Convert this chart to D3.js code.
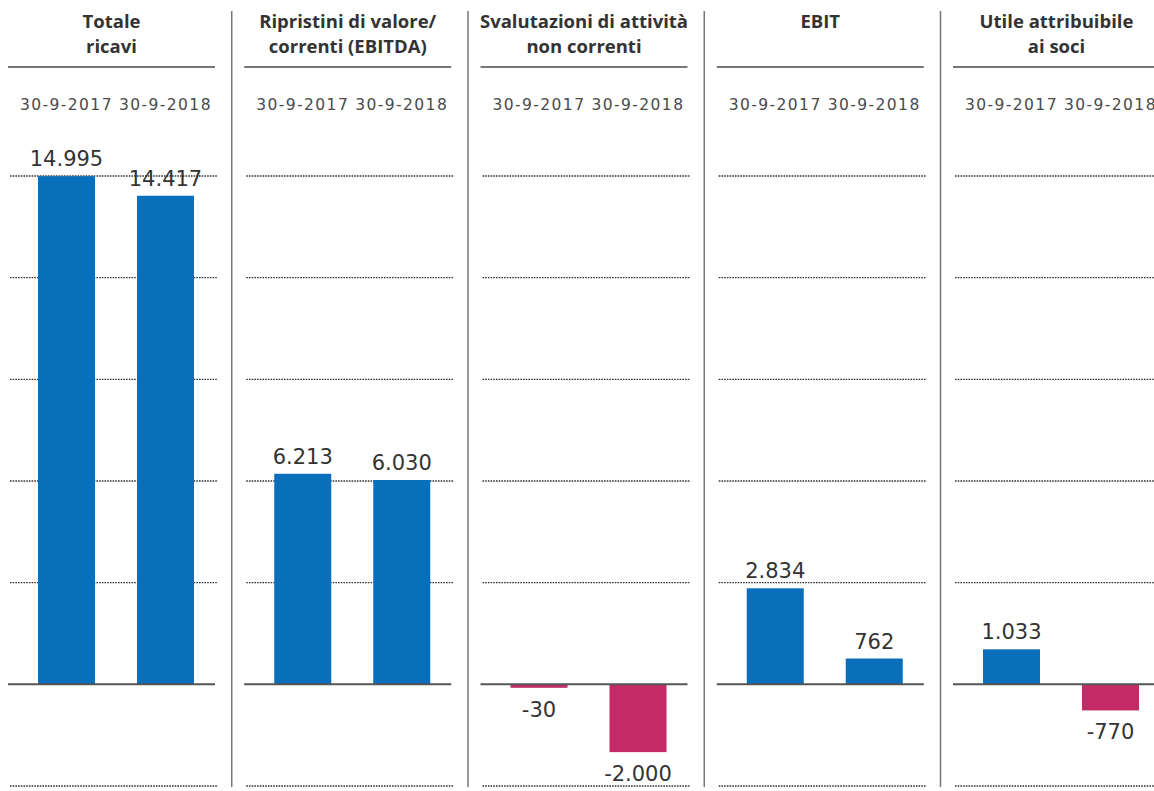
<!DOCTYPE html>
<html><head><meta charset="utf-8">
<script src="https://cdn.jsdelivr.net/npm/d3@7"></script>
<style>
html,body{margin:0;padding:0;background:#fff;overflow:hidden}
svg{display:block}
</style></head>
<body>
<svg id="chart" width="1154" height="791"></svg>
<script>
// ---- data ----
const categories = [
  ["Totale", "ricavi"],
  ["Ripristini di valore/", "correnti (EBITDA)"],
  ["Svalutazioni di attività", "non correnti"],
  ["EBIT"],
  ["Utile attribuibile", "ai soci"]
];
const periods = ["30-9-2017", "30-9-2018"];
const values2017 = [14995, 6213, -30, 2834, 1033];
const values2018 = [14417, 6030, -2000, 762, -770];
const gridTicks = [-3000, 3000, 6000, 9000, 12000, 15000];

// ---- setup ----
const svg = d3.select("#chart");
const blue = "#0a6fba", pink = "#c42a66";
const it = d3.formatLocale({decimal: ",", thousands: ".", grouping: [3], currency: ["€", ""], minus: "-"});
const fmt = it.format(",d");

const panelIds = categories.map((c, i) => i);
const xPanel = d3.scaleBand().domain(panelIds).range([8, 1160]).paddingInner(0.1238).paddingOuter(0);
const pw = xPanel.bandwidth();
const xBar = d3.scaleBand().domain(periods).range([30, 186]).paddingInner(0.4242).paddingOuter(0);
const y = d3.scaleLinear().domain([-3000, 15000]).range([786, 176]);

// separators
for (let i = 1; i < panelIds.length; i++) {
  const sx = xPanel(i) - 12.5;
  svg.append("line").attr("x1", sx).attr("x2", sx).attr("y1", 11).attr("y2", 787)
    .attr("stroke", "#777").attr("stroke-width", 1.5);
}

const panels = svg.selectAll("g.panel").data(panelIds).join("g")
  .attr("class", "panel")
  .attr("transform", d => `translate(${xPanel(d)},0)`);

// titles
panels.each(function(d) {
  const g = d3.select(this);
  const t = g.append("text").attr("x", pw / 2).attr("text-anchor", "middle")
    .attr("font-family", "'Open Sans', sans-serif").attr("font-weight", 700)
    .attr("font-size", 18.5).attr("fill", "#333");
  categories[d].forEach((line, k) => {
    t.append("tspan").attr("x", pw / 2).attr("y", 28 + k * 25).text(line);
  });
});

// underline
panels.append("line").attr("x1", 0).attr("x2", pw).attr("y1", 67).attr("y2", 67)
  .attr("stroke", "#777").attr("stroke-width", 2);

// period labels
panels.selectAll("text.period").data(periods).join("text")
  .attr("class", "period")
  .attr("x", p => xBar(p) + xBar.bandwidth() / 2)
  .attr("y", 110)
  .attr("text-anchor", "middle")
  .attr("font-family", "'DejaVu Sans', sans-serif").attr("font-size", 15.5)
  .attr("letter-spacing", 1.4)
  .attr("fill", "#4a4a4a")
  .text(p => p);

// gridlines
panels.selectAll("line.grid").data(gridTicks).join("line")
  .attr("class", "grid")
  .attr("x1", 2).attr("x2", pw + 3)
  .attr("y1", t => y(t)).attr("y2", t => y(t))
  .attr("stroke", "#333").attr("stroke-width", 1.4)
  .attr("stroke-dasharray", "1.6,1.1");

// bars
const barData = d => [
  {p: periods[0], v: values2017[d]},
  {p: periods[1], v: values2018[d]}
];
panels.selectAll("rect.bar").data(d => barData(d)).join("rect")
  .attr("class", "bar")
  .attr("x", b => xBar(b.p))
  .attr("width", xBar.bandwidth())
  .attr("y", b => b.v >= 0 ? y(b.v) : y(0))
  .attr("height", b => Math.max(3.5, Math.abs(y(b.v) - y(0))))
  .attr("fill", b => b.v >= 0 ? blue : pink);

// baseline
panels.append("line").attr("x1", 0).attr("x2", pw).attr("y1", y(0)).attr("y2", y(0))
  .attr("stroke", "#555").attr("stroke-width", 2);

// value labels
panels.selectAll("text.val").data(d => barData(d)).join("text")
  .attr("class", "val")
  .attr("x", b => xBar(b.p) + xBar.bandwidth() / 2)
  .attr("y", b => b.v >= 0 ? y(b.v) - 10 : y(0) + Math.max(3.5, Math.abs(y(b.v) - y(0))) + 29)
  .attr("text-anchor", "middle")
  .attr("font-family", "'DejaVu Sans', sans-serif").attr("font-size", 21)
  .attr("fill", "#333")
  .text(b => fmt(b.v));
</script>
</body></html>
